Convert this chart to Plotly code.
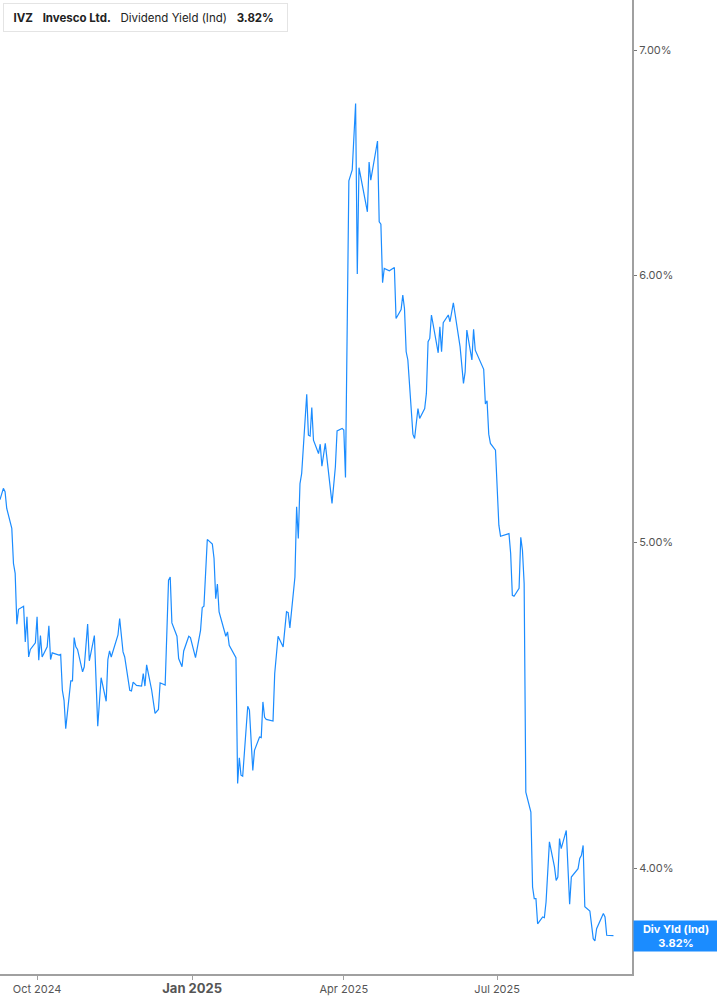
import math
import plotly.graph_objects as go

# IVZ dividend yield (indicated)
dates = [
    "2024-09-09", "2024-09-11", "2024-09-12", "2024-09-13", "2024-09-16", "2024-09-17",
    "2024-09-18", "2024-09-19", "2024-09-20", "2024-09-23", "2024-09-24", "2024-09-25",
    "2024-09-26", "2024-09-27", "2024-09-30", "2024-10-01", "2024-10-02", "2024-10-03",
    "2024-10-04", "2024-10-07", "2024-10-08", "2024-10-09", "2024-10-10", "2024-10-14",
    "2024-10-15", "2024-10-16", "2024-10-17", "2024-10-18", "2024-10-21", "2024-10-22",
    "2024-10-23", "2024-10-24", "2024-10-25", "2024-10-28", "2024-10-29", "2024-10-31",
    "2024-11-01", "2024-11-04", "2024-11-06", "2024-11-08", "2024-11-11", "2024-11-12",
    "2024-11-13", "2024-11-14", "2024-11-18", "2024-11-19", "2024-11-21", "2024-11-22",
    "2024-11-25", "2024-11-26", "2024-11-27", "2024-11-29", "2024-12-02", "2024-12-03",
    "2024-12-04", "2024-12-05", "2024-12-08", "2024-12-10", "2024-12-12", "2024-12-13",
    "2024-12-16", "2024-12-18", "2024-12-19", "2024-12-20", "2024-12-23", "2024-12-24",
    "2024-12-26", "2024-12-27", "2024-12-30", "2024-12-31", "2025-01-03", "2025-01-06",
    "2025-01-07", "2025-01-08", "2025-01-10", "2025-01-13", "2025-01-14", "2025-01-15",
    "2025-01-16", "2025-01-17", "2025-01-21", "2025-01-22", "2025-01-23", "2025-01-27",
    "2025-01-28", "2025-01-29", "2025-01-30", "2025-01-31", "2025-02-03", "2025-02-04",
    "2025-02-06", "2025-02-07", "2025-02-10", "2025-02-11", "2025-02-12", "2025-02-13",
    "2025-02-14", "2025-02-18", "2025-02-19", "2025-02-21", "2025-02-24", "2025-02-26",
    "2025-02-27", "2025-02-28", "2025-03-03", "2025-03-04", "2025-03-05", "2025-03-06",
    "2025-03-07", "2025-03-10", "2025-03-11", "2025-03-12", "2025-03-13", "2025-03-14",
    "2025-03-17", "2025-03-18", "2025-03-19", "2025-03-21", "2025-03-25", "2025-03-27",
    "2025-03-28", "2025-03-31", "2025-04-01", "2025-04-02", "2025-04-04", "2025-04-06",
    "2025-04-08", "2025-04-09", "2025-04-10", "2025-04-14", "2025-04-15", "2025-04-16",
    "2025-04-17", "2025-04-21", "2025-04-22", "2025-04-23", "2025-04-24", "2025-04-25",
    "2025-04-28", "2025-05-01", "2025-05-02", "2025-05-05", "2025-05-06", "2025-05-07",
    "2025-05-08", "2025-05-09", "2025-05-12", "2025-05-13", "2025-05-15", "2025-05-16",
    "2025-05-19", "2025-05-20", "2025-05-21", "2025-05-22", "2025-05-23", "2025-05-27",
    "2025-05-28", "2025-05-29", "2025-05-30", "2025-06-02", "2025-06-03", "2025-06-05",
    "2025-06-09", "2025-06-11", "2025-06-12", "2025-06-13", "2025-06-16", "2025-06-17",
    "2025-06-18", "2025-06-23", "2025-06-24", "2025-06-25", "2025-06-26", "2025-06-27",
    "2025-06-30", "2025-07-02", "2025-07-03", "2025-07-08", "2025-07-09", "2025-07-10",
    "2025-07-11", "2025-07-14", "2025-07-15", "2025-07-16", "2025-07-17", "2025-07-18",
    "2025-07-21", "2025-07-22", "2025-07-23", "2025-07-24", "2025-07-25", "2025-07-28",
    "2025-07-29", "2025-07-30", "2025-08-01", "2025-08-04", "2025-08-05", "2025-08-06",
    "2025-08-07", "2025-08-08", "2025-08-11", "2025-08-13", "2025-08-14", "2025-08-18",
    "2025-08-19", "2025-08-20", "2025-08-21", "2025-08-22", "2025-08-25", "2025-08-27",
    "2025-08-28", "2025-08-29", "2025-09-02", "2025-09-03", "2025-09-04", "2025-09-08",
]

div_yield = [
    5.147, 5.187, 5.175, 5.116, 5.047, 4.927,
    4.894, 4.727, 4.775, 4.785, 4.670, 4.751,
    4.622, 4.646, 4.667, 4.751, 4.612, 4.690,
    4.622, 4.654, 4.722, 4.614, 4.635, 4.628,
    4.630, 4.518, 4.487, 4.401, 4.547, 4.547,
    4.684, 4.654, 4.646, 4.575, 4.591, 4.727,
    4.610, 4.690, 4.408, 4.557, 4.484, 4.614,
    4.641, 4.622, 4.692, 4.745, 4.638, 4.622,
    4.518, 4.516, 4.543, 4.533, 4.531, 4.570,
    4.531, 4.597, 4.518, 4.447, 4.459, 4.541,
    4.534, 4.871, 4.882, 4.731, 4.688, 4.617,
    4.591, 4.641, 4.688, 4.684, 4.620, 4.707,
    4.781, 4.785, 5.009, 4.993, 4.944, 4.810,
    4.858, 4.767, 4.688, 4.702, 4.659, 4.620,
    4.239, 4.314, 4.263, 4.260, 4.469, 4.457,
    4.277, 4.336, 4.376, 4.374, 4.482, 4.435,
    4.429, 4.424, 4.570, 4.688, 4.654, 4.767,
    4.764, 4.715, 4.882, 5.122, 5.012, 5.204,
    5.240, 5.532, 5.379, 5.376, 5.482, 5.361,
    5.312, 5.346, 5.266, 5.349, 5.134, 5.264,
    5.395, 5.404, 5.398, 5.226, 6.401, 6.449,
    6.749, 6.006, 6.459, 6.317, 6.267, 6.484,
    6.404, 6.578, 6.224, 6.214, 5.970, 6.029,
    6.019, 6.033, 5.826, 5.862, 5.920, 5.866,
    5.695, 5.663, 5.383, 5.367, 5.478, 5.441,
    5.478, 5.535, 5.734, 5.747, 5.840, 5.691,
    5.793, 5.695, 5.809, 5.840, 5.813, 5.889,
    5.714, 5.573, 5.617, 5.780, 5.663, 5.783,
    5.701, 5.627, 5.495, 5.507, 5.383, 5.349,
    5.324, 5.058, 5.020, 5.029, 4.961, 4.821,
    4.818, 4.844, 5.016, 4.972, 4.860, 4.214,
    4.157, 3.949, 3.918, 3.918, 3.851, 3.869,
    3.867, 3.909, 4.073, 4.004, 3.967, 3.976,
    4.082, 4.054, 4.105, 3.903, 3.976, 3.999,
    4.027, 4.036, 4.063, 3.896, 3.885, 3.812,
    3.806, 3.838, 3.878, 3.869, 3.821, 3.820,
]

y_ticks = [4, 5, 6, 7]
y_tick_text = ["4.00%", "5.00%", "6.00%", "7.00%"]
x_ticks = ["2024-10-01", "2025-01-01", "2025-04-01", "2025-07-01"]
x_tick_text = [
    "Oct 2024",
    "<span style='font-size:13px'><b>Jan 2025</b></span>",
    "Apr 2025",
    "Jul 2025",
]

last_value = div_yield[-1]
blue = "#1b8cff"
axis_grey = "#a0a0a0"
text_grey = "#555555"

fig = go.Figure()
fig.add_trace(go.Scatter(
    x=dates,
    y=div_yield,
    mode="lines",
    line=dict(color=blue, width=1.2),
    hoverinfo="skip",
    showlegend=False,
))

fig.update_layout(
    width=717,
    height=1005,
    margin=dict(l=0, r=85, t=0, b=31),
    paper_bgcolor="white",
    plot_bgcolor="white",
    font=dict(family="Inter, Roboto, sans-serif", size=11, color=text_grey),
    xaxis=dict(
        type="date",
        range=["2024-09-09", "2025-09-19"],
        tickvals=x_ticks,
        ticktext=x_tick_text,
        showgrid=False,
        zeroline=False,
        showline=True,
        linecolor=axis_grey,
        linewidth=2,
        ticks="outside",
        ticklen=4,
        tickwidth=1,
        tickcolor=axis_grey,
        tickfont=dict(size=11, color=text_grey),
    ),
    yaxis=dict(
        type="log",
        side="right",
        range=[math.log10(3.721), math.log10(7.244)],
        tickvals=y_ticks,
        ticktext=y_tick_text,
        showgrid=False,
        zeroline=False,
        showline=True,
        linecolor=axis_grey,
        linewidth=2,
        ticks="outside",
        ticklen=3,
        tickwidth=1,
        tickcolor="#777777",
        tickfont=dict(size=11, color=text_grey),
    ),
)

# header box, top left
fig.add_annotation(
    xref="paper", yref="paper",
    x=3 / 632, y=1 - 3 / 974,
    xanchor="left", yanchor="top",
    text=("&nbsp;&nbsp;<b>IVZ</b>&nbsp;&nbsp;&nbsp;<b>Invesco Ltd.</b>&nbsp;&nbsp;&nbsp;"
          "Dividend Yield (Ind)&nbsp;&nbsp;&nbsp;<b>" + f"{last_value:.2f}%" + "</b>&nbsp;&nbsp;&nbsp;"),
    showarrow=False,
    align="left",
    height=21,
    font=dict(family="Inter, Roboto, sans-serif", size=11.5, color="#222222"),
    bgcolor="white",
    bordercolor="#e4e4e4",
    borderwidth=1,
    borderpad=3,
)
fig.add_shape(
    type="rect", xref="paper", yref="paper",
    x0=3 / 632, x1=6.5 / 632, y0=1 - 30 / 974, y1=1 - 4 / 974,
    fillcolor=blue, line=dict(width=0),
)

# last value label on the right axis
fig.add_annotation(
    xref="paper", yref="y",
    x=1, y=math.log10(last_value),
    xanchor="left", yanchor="middle",
    xshift=1,
    text="<b>Div Yld (Ind)</b><br><b>" + f"{last_value:.2f}%" + "</b>",
    showarrow=False,
    align="center",
    width=80,
    height=26,
    font=dict(family="Inter, Roboto, sans-serif", size=11, color="white"),
    bgcolor=blue,
    borderpad=2,
)

# page body has a default 8px margin; drop it so the figure sits at the window corner
fig.write_html(
    "out.html",
    config={"displayModeBar": False},
    post_script="document.body.style.margin='0';",
)
